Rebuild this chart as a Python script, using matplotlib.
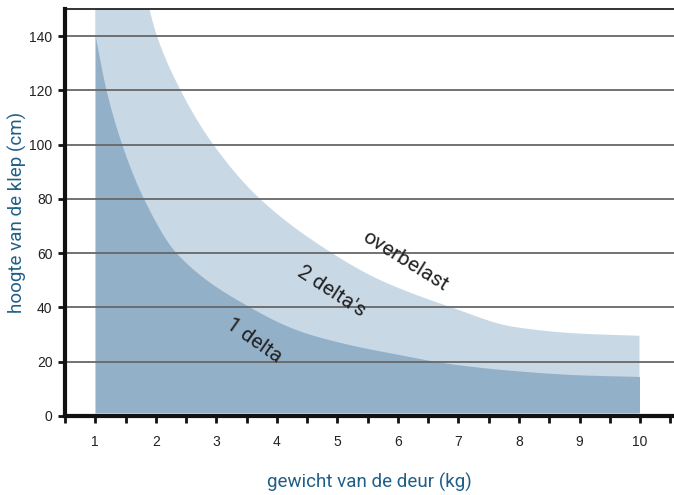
import matplotlib
matplotlib.use("Agg")
import matplotlib.pyplot as plt
from matplotlib.ticker import MultipleLocator
import numpy as np

# data (boundary points of the two bands)
x_two = [1.0, 1.5, 1.89, 2.02, 2.41, 2.95, 3.72, 4.91, 5.71, 6.88, 7.91, 9.01, 9.99]
y_two = [290, 200, 150.5, 140, 120, 100, 80, 60, 50, 40, 32.8, 30.3, 29.5]

x_one = [1.0, 1.18, 1.44, 1.80, 2.34, 3.56, 4.39, 5.21, 6.04, 6.81, 7.91, 9.01, 9.99]
y_one = [140, 120, 100, 80, 60, 40, 31.2, 26.2, 22.5, 19.4, 16.7, 15.1, 14.5]

base_strip = 1.2

xticks = [1, 2, 3, 4, 5, 6, 7, 8, 9, 10]
yticks = [0, 20, 40, 60, 80, 100, 120, 140]

labels = [("overbelast", 6.12, 56.9, -32),
          ("2 delta's", 4.90, 45.8, -33),
          ("1 delta", 3.63, 27.7, -35)]

light = "#c8d8e5"
dark = "#93b0c9"
axis_blue = "#1f5f88"


def smooth(xs, ys, n=400):
    """Monotone cubic (Fritsch-Carlson) rendering of the read points."""
    x = np.asarray(xs, float)
    y = np.asarray(ys, float)
    h = np.diff(x)
    d = np.diff(y) / h
    m = np.zeros_like(y)
    m[0], m[-1] = d[0], d[-1]
    for i in range(1, len(x) - 1):
        if d[i - 1] * d[i] <= 0:
            m[i] = 0
        else:
            w1 = 2 * h[i] + h[i - 1]
            w2 = h[i] + 2 * h[i - 1]
            m[i] = (w1 + w2) / (w1 / d[i - 1] + w2 / d[i])
    xx = np.linspace(x[0], x[-1], n)
    idx = np.clip(np.searchsorted(x, xx) - 1, 0, len(x) - 2)
    t = (xx - x[idx]) / h[idx]
    h00 = 2 * t**3 - 3 * t**2 + 1
    h10 = t**3 - 2 * t**2 + t
    h01 = -2 * t**3 + 3 * t**2
    h11 = t**3 - t**2
    yy = h00 * y[idx] + h10 * h[idx] * m[idx] + h01 * y[idx + 1] + h11 * h[idx] * m[idx + 1]
    return xx, yy


fig = plt.figure(figsize=(6.74, 4.95), dpi=100)
ax = fig.add_axes([0.0964, 0.160, 0.9036, 0.822])

sx2, sy2 = smooth(x_two, y_two)
sx1, sy1 = smooth(x_one, y_one)
ax.fill_between(sx2, 0, sy2, color=light, lw=0, zorder=1)
ax.fill_between(sx1, base_strip, sy1, color=dark, lw=0, zorder=2)

for yv in yticks[1:]:
    ax.axhline(yv, color="#676767", lw=1.3, zorder=3)

ax.set_xlim(0.5, 10.56)
ax.set_ylim(0, 150)

ax.set_xticks(xticks)
ax.xaxis.set_minor_locator(MultipleLocator(0.5))
ax.set_yticks(yticks)

ax.spines["right"].set_visible(False)
ax.spines["top"].set_linewidth(1.2)
ax.spines["left"].set_linewidth(3)
ax.spines["bottom"].set_linewidth(3)
for s in ["left", "bottom", "top"]:
    ax.spines[s].set_color("#111111")
    ax.spines[s].set_zorder(5)

ax.tick_params(axis="x", which="both", direction="out", length=5, width=2, color="#111111",
               labelsize=10, pad=9, labelcolor="#222222")
ax.tick_params(axis="y", which="major", direction="out", length=5, width=2, color="#111111",
               labelsize=10, pad=4, labelcolor="#222222")
for lab in ax.get_xticklabels() + ax.get_yticklabels():
    lab.set_fontfamily("Liberation Sans")

ax.set_ylabel("hoogte van de klep (cm)", color=axis_blue, fontsize=13.5, family="Roboto")
ax.yaxis.set_label_coords(-0.062, 0.5)
ax.set_xlabel("gewicht van de deur (kg)", color=axis_blue, fontsize=13.5, family="Roboto", labelpad=17)

for txt, xx, yy, rot in labels:
    ax.text(xx, yy, txt, rotation=rot, ha="center", va="center", fontsize=15,
            family="Roboto", color="#222222", zorder=6, rotation_mode="anchor")

fig.savefig("out.png", dpi=100)
